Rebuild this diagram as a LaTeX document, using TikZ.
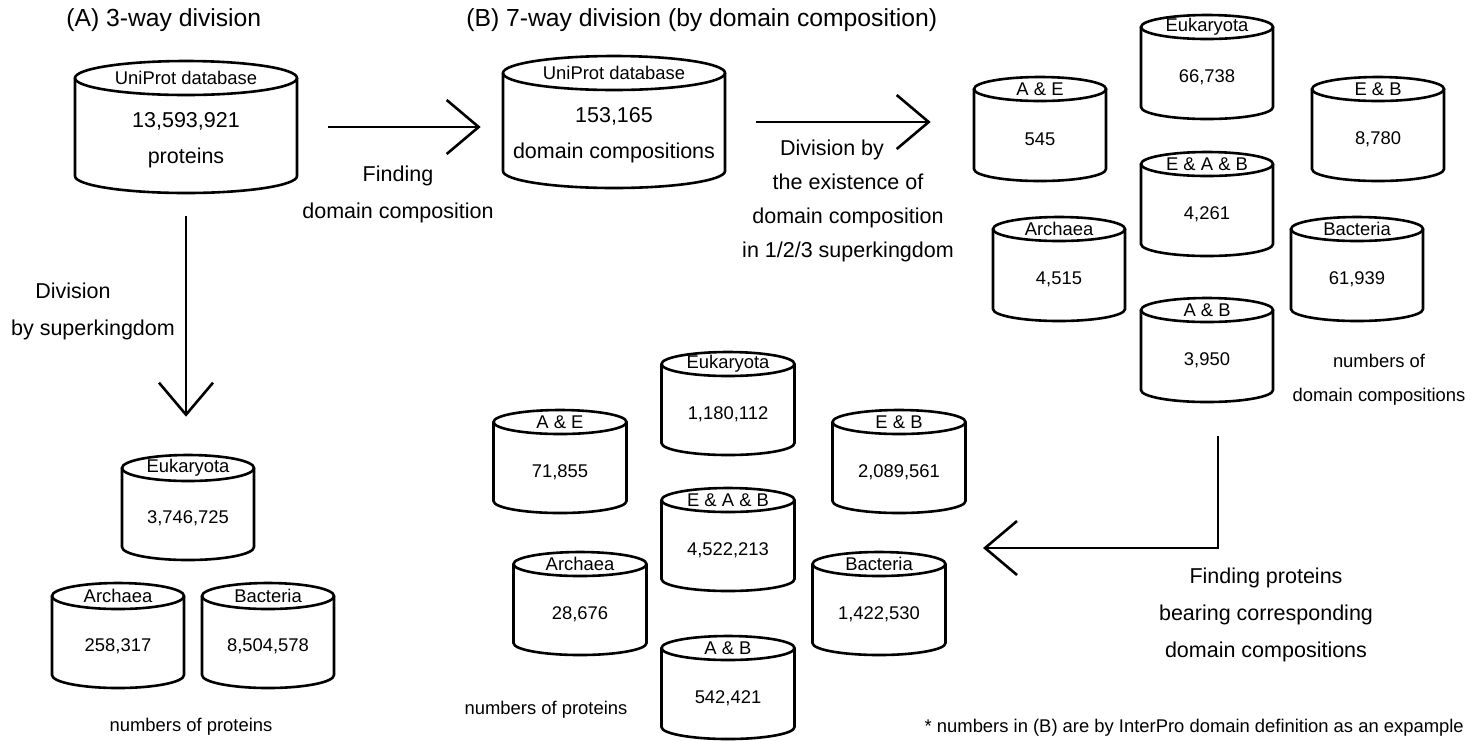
\documentclass[tikz,border=0pt]{standalone}
\usepackage{fontspec}
\setmainfont{Liberation Sans}
\usetikzlibrary{arrows.meta}

\tikzset{every picture/.style={line width=1.3pt}}
\tikzset{
  dbbox/.style={inner sep=0pt, draw=none},
  dblabel/.style={inner sep=0pt, font=\fontsize{9.2}{11}\selectfont},
  dbnum/.style={inner sep=0pt, font=\fontsize{9.2}{11}\selectfont},
  bignum/.style={inner sep=0pt, align=center, font=\fontsize{10.75}{18}\selectfont},
  headline/.style={anchor=west, inner sep=0pt, font=\fontsize{12.35}{15}\selectfont},
  steptext/.style={inner sep=0pt, align=center, font=\fontsize{10.75}{18.5}\selectfont},
  countnote/.style={inner sep=0pt, align=center, font=\fontsize{9.2}{17}\selectfont},
  flow/.style={-{Straight Barb[length=16pt,width=27pt]}, line width=1.3pt},
}

% database cylinder: [number style]{name}{cx}{top}{width}{height}{ry}{label}{number}
\newcommand{\dbcyl}[9][dbnum]{%
  \node[dbbox, minimum width=#5*0.5pt, minimum height=#6*0.5pt] (#2) at (#3,{#4+#6/2}) {};
  \draw ({#3-#5/2},{#4+#7}) -- ({#3-#5/2},{#4+#6-#7}) arc[start angle=180, end angle=0, x radius=#5/2, y radius=#7] -- ({#3+#5/2},{#4+#7});
  \draw (#3,{#4+#7}) ellipse[x radius=#5/2, y radius=#7];
  \node[dblabel] (#2-l) at (#3,{#4+#7}) {#8};
  \node[#1] (#2-n) at (#3,{#4+0.6*#6}) {#9};
}

\begin{document}
\begin{tikzpicture}[x=0.5pt,y=0.5pt,yscale=-1,xscale=1]
\path[fill=white] (0,0) rectangle (1470,741);

% Text Node
\node[headline] (titleA) at (65,20) {(A) 3-way division};
\node[headline] (titleB) at (465,20) {(B) 7-way division (by domain composition)};

%Shape: UniProt cylinders
\dbcyl[bignum]{dbA}{186}{61}{222}{132}{17}{UniProt database}{13,593,921\\proteins}
\dbcyl[bignum]{dbB}{614}{56}{222}{132}{17}{UniProt database}{153,165\\domain compositions}

%Shape: domain composition cylinders
\dbcyl{dEuk}{1207}{15}{132}{104}{12}{Eukaryota}{66,738}
\dbcyl{dAE}{1040}{77}{132}{104}{12}{A \& E}{545}
\dbcyl{dEB}{1378}{77}{132}{104}{12}{E \& B}{8,780}
\dbcyl{dEAB}{1207}{152}{132}{104}{12}{E \& A \& B}{4,261}
\dbcyl{dArc}{1059}{217}{132}{104}{12}{Archaea}{4,515}
\dbcyl{dBac}{1357}{217}{132}{104}{12}{Bacteria}{61,939}
\dbcyl{dAB}{1207}{298}{132}{104}{12}{A \& B}{3,950}

%Shape: protein cylinders (B)
\dbcyl{pEuk}{728}{352}{133}{103}{12}{Eukaryota}{1,180,112}
\dbcyl{pAE}{560}{410}{133}{103}{12}{A \& E}{71,855}
\dbcyl{pEB}{899}{410}{133}{103}{12}{E \& B}{2,089,561}
\dbcyl{pEAB}{728}{488}{133}{103}{12}{E \& A \& B}{4,522,213}
\dbcyl{pArc}{580}{552}{133}{103}{12}{Archaea}{28,676}
\dbcyl{pBac}{879}{552}{133}{103}{12}{Bacteria}{1,422,530}
\dbcyl{pAB}{728}{636}{133}{103}{12}{A \& B}{542,421}

%Shape: protein cylinders (A)
\dbcyl{aEuk}{188}{455}{132}{105}{13}{Eukaryota}{3,746,725}
\dbcyl{aArc}{118}{583}{132}{105}{13}{Archaea}{258,317}
\dbcyl{aBac}{268}{583}{132}{105}{13}{Bacteria}{8,504,578}

% Text Node
\node[steptext] (findDom) at (398,194) {Finding\\domain composition};
\node[steptext, font=\fontsize{10.75}{17}\selectfont] (divide) at (848,201) {Division by\hspace*{16pt}\\the existence of\\domain composition\\in 1/2/3 superkingdom};
\node[steptext] (kingdom) at (93,311) {Division\hspace*{20pt}\\by superkingdom};
\node[steptext] (findProt) at (1266,615) {Finding proteins\\bearing corresponding\\domain compositions};
\node[countnote] (countA) at (191,727) {numbers of proteins};
\node[countnote] (countP) at (546,710) {numbers of proteins};
\node[countnote] (countD) at (1379,380) {numbers of\\domain compositions};
\node[countnote, anchor=east] (footnote) at (1465,728) {* numbers in (B) are by InterPro domain definition as an expample};

%Straight Lines: arrows
\draw[flow, shorten <=15pt, shorten >=10.5pt] (dbA.east) -- (dbA.east -| dbB.west);
\draw[flow, shorten <=15pt, shorten >=21pt] (dbB.east) -- (dbB.east -| dAE.west);
\draw[flow, shorten <=11pt, shorten >=18.5pt] (dbA.south) -- (dbA.south |- aEuk.north);
\coordinate (backTip) at (983,548);
\draw[flow, shorten <=16.5pt] ([xshift=5.5pt]dAB.south) |- (backTip);

\end{tikzpicture}
\end{document}
